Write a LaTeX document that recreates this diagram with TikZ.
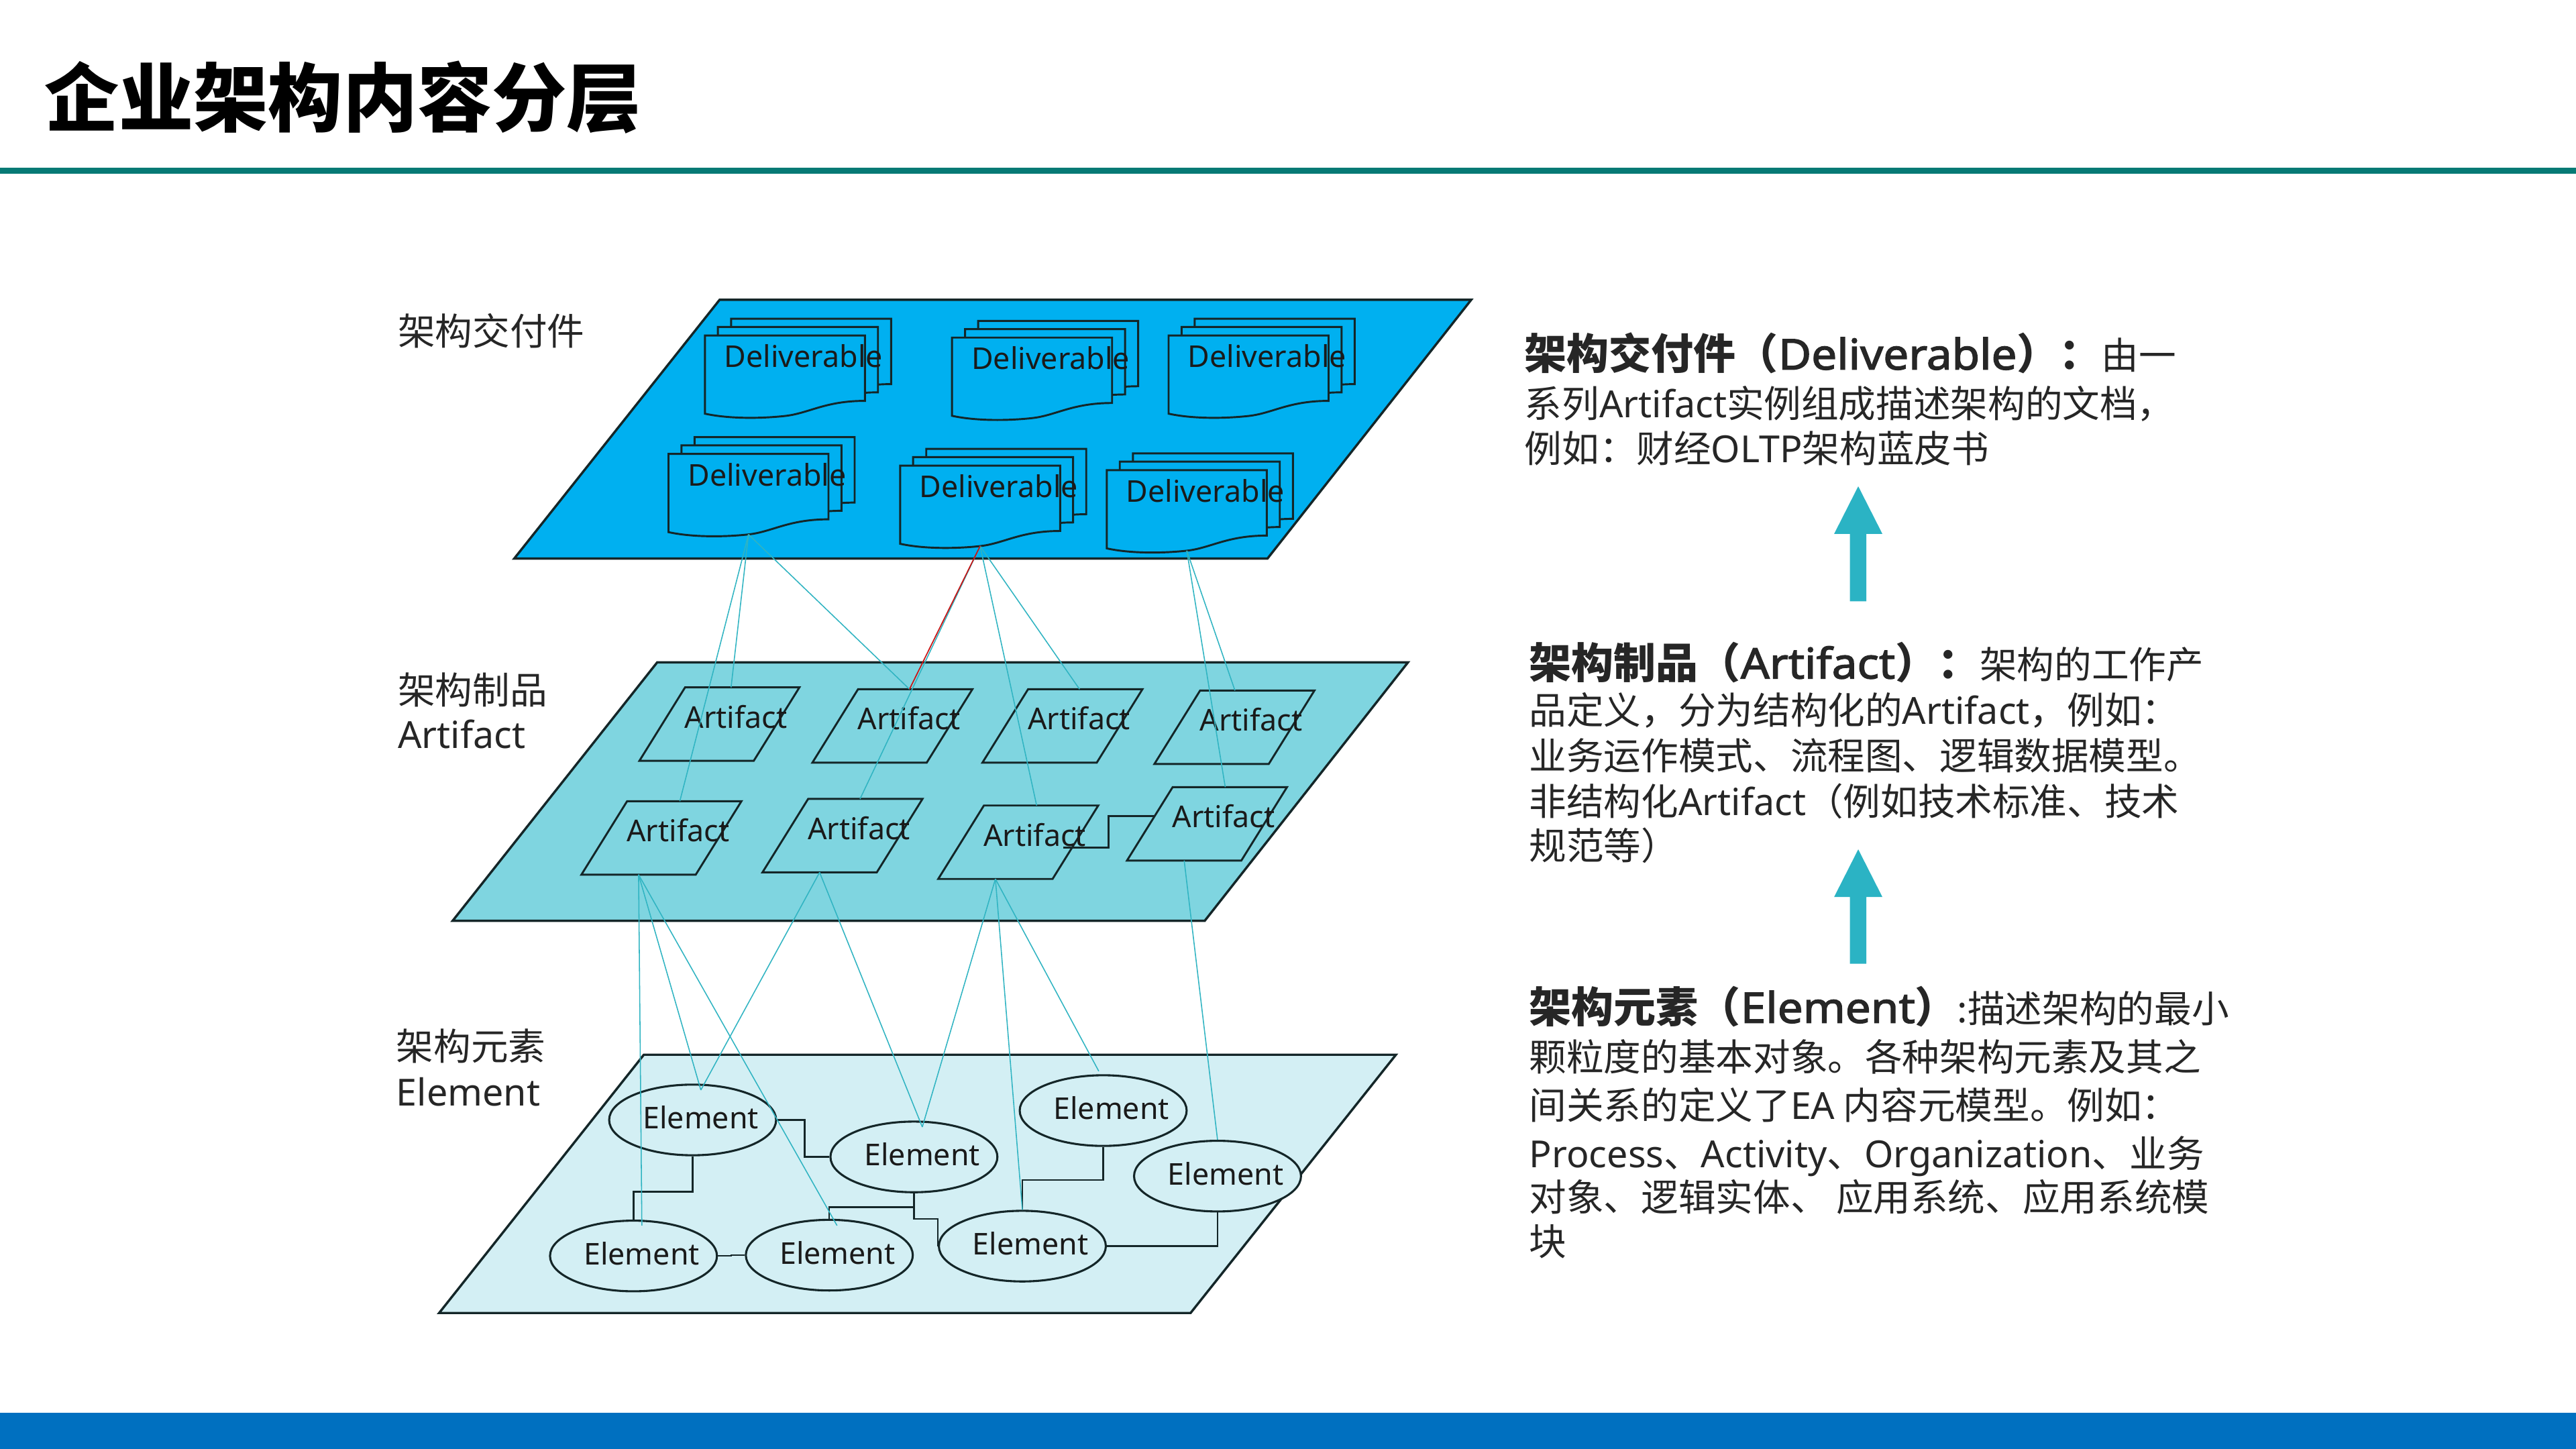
\documentclass[tikz,border=0pt]{standalone}
\usepackage{fontspec}
\setmainfont{Noto Sans CJK SC}
\newfontfamily\latf{Noto Sans}
\newfontfamily\latbold{Noto Sans}[FakeBold=2.2,FakeStretch=1.07]
\usetikzlibrary{shapes.geometric}
\definecolor{rulec}{RGB}{6,122,117}
\definecolor{barc}{RGB}{0,112,192}
\definecolor{lay1}{RGB}{0,176,240}
\definecolor{lay2}{RGB}{127,213,224}
\definecolor{lay3}{RGB}{211,239,244}
\definecolor{edgec}{RGB}{20,38,40}
\definecolor{linkc}{RGB}{48,180,194}
\definecolor{redc}{RGB}{200,20,20}
\definecolor{arrowc}{RGB}{43,179,196}
\definecolor{txtc}{RGB}{38,38,38}
\definecolor{lblc}{RGB}{26,26,26}
\newcommand\hdfont{\bfseries\fontsize{18.3}{20}\selectfont}
\begin{document}
\begin{tikzpicture}[x=0.025cm,y=-0.025cm,
  layerbox/.style={draw=edgec,line width=1pt},
  docbox/.style={draw=edgec,fill=lay1,line width=0.85pt},
  artsty/.style={draw=edgec,fill=lay2,line width=0.85pt},
  elemnode/.style={ellipse,draw=edgec,fill=lay3,line width=0.9pt,minimum width=2.54cm,minimum height=1.075cm,inner sep=0pt},
  inlbl/.style={inner sep=0pt,text=lblc,font=\latf\fontsize{13}{15}\selectfont},
  linkline/.style={draw=linkc,line width=0.45pt},
  redline/.style={draw=redc,line width=0.5pt},
  elbowline/.style={draw=edgec,line width=0.7pt},
  bodytxt/.style={anchor=base west,inner sep=0pt,text=txtc,font=\fontsize{16.15}{19}\selectfont},
  docpage/.pic={\filldraw[docbox] (0,0) -- (97.4,0) -- (97.4,39.8) .. controls (73,39.8) and (63.3,47.4) .. (48.7,49) .. controls (34.1,50.6) and (14.6,50.8) .. (0,47.6) -- cycle;},
  docstack/.pic={
    \pic at (15.9,-10.2) {docpage};
    \pic at (7.9,-5.2) {docpage};
    \pic at (0,0) {docpage};
    \node[inlbl] (-lbl) at (60,12.6) {Deliverable};
    \coordinate (-out) at (48.7,49);
  },
  artpara/.pic={
    \filldraw[artsty] (0,0) -- (69.6,0) -- (41.8,44.7) -- (-27.8,44.7) -- cycle;
    \node[inlbl] (-lbl) at (31,17.8) {Artifact};
    \coordinate (-b) at (7,44.7);
  }
]
\useasboundingbox (0,0) rectangle (1568,882);
\fill[white] (0,0) rectangle (1568,882);

% title
\node[anchor=base west,inner sep=0pt,font=\bfseries\fontsize{32.3}{36}\selectfont,text=black] (title) at (26.7,76.7) {企业架构内容分层};
\fill[rulec] (0,102.2) rectangle (1568,105.8);
\fill[barc] (0,859.8) rectangle (1568,882);

% layers
\filldraw[layerbox,fill=lay1] (438,182.5) -- (895.5,182.5) -- (771.5,340) -- (313,340) -- cycle;
\filldraw[layerbox,fill=lay2] (400,403.2) -- (857,403.2) -- (733.3,560.5) -- (275.5,560.5) -- cycle;
\filldraw[layerbox,fill=lay3] (391.9,642) -- (849.7,642) -- (724.7,799.2) -- (267.3,799.2) -- cycle;

% layer labels
\node[bodytxt] (lab1) at (242,210) {架构交付件};
\node[bodytxt] (lab2) at (242,428.6) {架构制品};
\node[bodytxt,font=\latf\fontsize{16.15}{19}\selectfont] (lab2b) at (242,455.3) {Artifact};
\node[bodytxt] (lab3) at (241,645.3) {架构元素};
\node[bodytxt,font=\latf\fontsize{16.15}{19}\selectfont] (lab3b) at (241,673.1) {Element};

% deliverables
\pic (d1) at (429.1,204.2) {docstack};
\pic (d2) at (579.5,205.5) {docstack};
\pic (d3) at (711.3,204.2) {docstack};
\pic (d4) at (406.9,276.3) {docstack};
\pic (d5) at (547.9,283.4) {docstack};
\pic (d6) at (673.7,286.2) {docstack};

% artifacts
\pic (a1) at (417,418.4) {artpara};
\pic (a2) at (522.3,419.5) {artpara};
\pic (a3) at (625.8,419.5) {artpara};
\pic (a4) at (730.5,420.3) {artpara};
\pic (a5) at (381.7,487.7) {artpara};
\pic (a6) at (491.9,486.3) {artpara};
\pic (a7) at (598.9,490.3) {artpara};
\pic (a8) at (713.8,479.1) {artpara};

% elements
\node[elemnode] (e1) at (421.6,681.7) {};
\node[elemnode] (e2) at (556.3,704.2) {};
\node[elemnode] (e3) at (671.5,676) {};
\node[elemnode] (e4) at (741.1,715.9) {};
\node[elemnode] (e5) at (385.6,764.5) {};
\node[elemnode] (e6) at (504.8,764) {};
\node[elemnode] (e7) at (622.3,758.5) {};
\foreach \e in {1,...,7}{\node[inlbl] (e\e l) at ([shift={(5,-1.5)}]e\e.center) {Element};}

% element connectors
\draw[elbowline] (e1.east) -- ++(16.7,0) |- (e2.west);
\draw[elbowline] (e1.south) -- ++(0,21.6) -| (e5.north);
\draw[elbowline] (e5.east) -- ++(8,0) |- (e6.west);
\draw[elbowline] (e2.south) -- ++(0,8.5) -| (e6.north);
\draw[elbowline] (e2.south) -- ++(0,15.7) -| (e7.west);
\draw[elbowline] (e3.south) -- ++(0,20) -| (e7.north);
\draw[elbowline] (e7.east) -| (e4.south);

% artifact connector
\coordinate (a7r) at (647.4,515.9);
\coordinate (a8l) at (703,496.8);
\draw[elbowline] (a7r) -- ++(27.3,0) |- (a8l);

% link end points
\coordinate (a1in) at (445,418.4);
\coordinate (a2in) at (553.6,419.5);
\coordinate (a3in) at (657.1,419.5);
\coordinate (a4in) at (751.7,420.3);
\coordinate (a5in) at (413.8,487.7);
\coordinate (a6in) at (523.5,486.3);
\coordinate (a7in) at (631,490.3);
\coordinate (a8in) at (745.8,479.1);
\coordinate (e1in) at (426.6,663.5);
\coordinate (e2in) at (561.4,686);
\coordinate (e3in) at (668.8,652);
\coordinate (e5in) at (390.7,746);
\coordinate (e6in) at (509.5,746);

% links deliverable -> artifact
\draw[linkline] (d4-out) -- (a1in);
\draw[linkline] (d4-out) -- (a5in);
\draw[linkline] (d4-out) -- (a2in);
\draw[linkline] (d5-out) -- (a6in);
\draw[linkline] (d5-out) -- (a7in);
\draw[linkline] (d5-out) -- (a3in);
\draw[linkline] (d6-out) -- (a4in);
\draw[linkline] (d6-out) -- (a8in);
\draw[redline] (d5-out) -- (a2in);

% links artifact -> element
\draw[linkline] (a5-b) -- (e5in);
\draw[linkline] (a5-b) -- (e1in);
\draw[linkline] (a5-b) -- (e6in);
\draw[linkline] (a6-b) -- (e1in);
\draw[linkline] (a6-b) -- (e2in);
\draw[linkline] (a7-b) -- (e2in);
\draw[linkline] (a7-b) -- (e7.north);
\draw[linkline] (a7-b) -- (e3in);
\draw[linkline] (a8-b) -- (e4.north);

% right text
\node[bodytxt] (r11) at (927.8,224.9) {{\hdfont 架构交付件（{\latbold Deliverable}）：}由一};
\node[bodytxt] (r12) at (927.8,254.3) {系列{\latf Artifact}实例组成描述架构的文档，};
\node[bodytxt] (r13) at (927.8,281.5) {例如：财经{\latf OLTP}架构蓝皮书};

\node[bodytxt] (r21) at (930.6,413) {{\hdfont 架构制品（{\latbold Artifact}）：}架构的工作产};
\node[bodytxt] (r22) at (930.6,440.8) {品定义，分为结构化的{\latf Artifact}，例如：};
\node[bodytxt] (r23) at (930.6,468.6) {业务运作模式、流程图、逻辑数据模型。};
\node[bodytxt] (r24) at (930.6,496.2) {非结构化{\latf Artifact}（例如技术标准、技术};
\node[bodytxt] (r25) at (930.6,523.4) {规范等）};

\node[bodytxt] (r31) at (930.6,622.6) {{\hdfont 架构元素（{\latbold Element}）}:描述架构的最小};
\node[bodytxt] (r32) at (930.6,652.1) {颗粒度的基本对象。各种架构元素及其之};
\node[bodytxt] (r33) at (930.6,681.5) {间关系的定义了{\latf EA} 内容元模型。例如：};
\node[bodytxt] (r34) at (930.6,710.6) {{\latf Process}、{\latf Activity}、{\latf Organization}、业务};
\node[bodytxt] (r35) at (930.6,737.4) {对象、逻辑实体、 应用系统、应用系统模};
\node[bodytxt] (r36) at (930.6,764) {块};

% arrows
\fill[arrowc] (1126,366) -- (1126,325) -- (1116.4,325) -- (1131.1,296) -- (1145.8,325) -- (1136,325) -- (1136,366) -- cycle;
\fill[arrowc] (1126,586.6) -- (1126,546) -- (1116.4,546) -- (1131.1,517) -- (1145.8,546) -- (1136,546) -- (1136,586.6) -- cycle;
\end{tikzpicture}
\end{document}
